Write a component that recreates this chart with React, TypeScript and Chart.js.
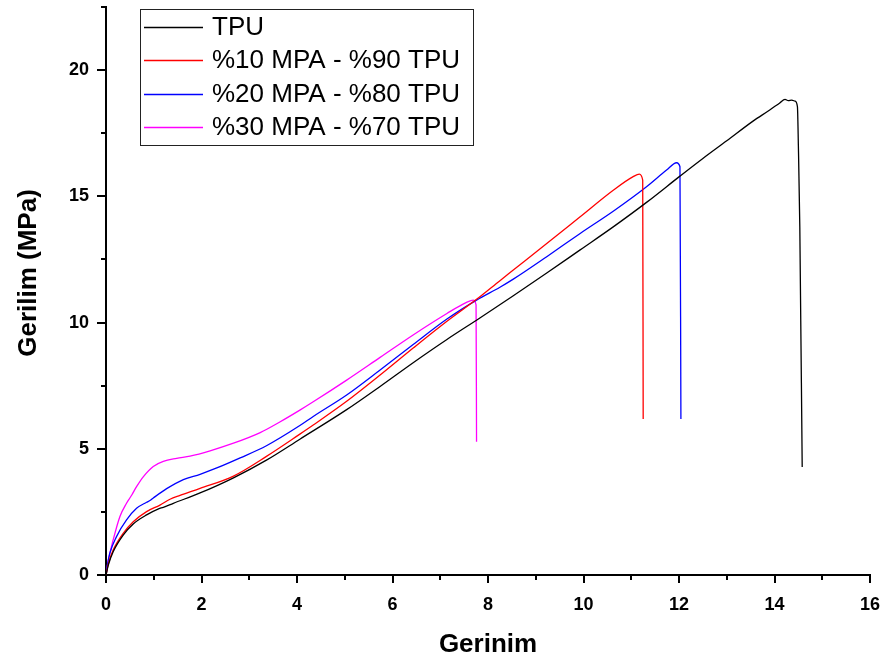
import React, { useEffect, useRef } from "react";
import { Chart, registerables } from "chart.js";

Chart.register(...registerables);

// Strain (Gerinim) / stress (Gerilim, MPa) curves for each blend
const tpuStrain = [0, 0.05, 0.15, 0.36, 0.57, 0.85, 1.1, 1.2, 1.41, 1.97, 2.67, 3.36, 4.06, 5.04, 5.74, 6.44, 7.14, 7.83, 8.53, 9.23, 9.93, 10.63, 11.32, 12.02, 12.5, 13.0, 13.55, 13.9, 14.11, 14.22, 14.29, 14.36, 14.43, 14.48, 14.5, 14.53, 14.58];
const tpuStress = [0, 0.4, 0.92, 1.58, 2.02, 2.38, 2.62, 2.68, 2.84, 3.25, 3.85, 4.55, 5.38, 6.55, 7.47, 8.42, 9.33, 10.18, 11.06, 11.96, 12.88, 13.8, 14.76, 15.8, 16.5, 17.2, 17.98, 18.42, 18.7, 18.84, 18.79, 18.81, 18.77, 18.55, 17.0, 13.8, 4.28];

const mpa10Strain = [0, 0.05, 0.15, 0.36, 0.57, 0.85, 1.13, 1.34, 1.55, 1.97, 2.67, 3.36, 4.06, 4.34, 5.04, 5.74, 6.44, 7.14, 7.76, 8.25, 8.53, 9.23, 9.93, 10.63, 11.04, 11.17, 11.24, 11.25];
const mpa10Stress = [0, 0.45, 0.99, 1.65, 2.11, 2.51, 2.77, 3.0, 3.15, 3.43, 3.92, 4.7, 5.58, 5.94, 6.88, 7.92, 9.0, 10.05, 10.92, 11.66, 12.08, 13.13, 14.19, 15.25, 15.78, 15.88, 15.64, 6.18];

const mpa20Strain = [0, 0.03, 0.08, 0.22, 0.43, 0.64, 0.85, 0.92, 0.99, 1.27, 1.62, 1.97, 2.32, 2.81, 3.36, 4.06, 4.34, 5.04, 5.74, 6.44, 7.14, 7.76, 8.25, 8.53, 9.23, 9.93, 10.63, 11.32, 11.74, 11.95, 12.02, 12.04];
const mpa20Stress = [0, 0.4, 0.86, 1.52, 2.18, 2.64, 2.88, 2.95, 3.05, 3.42, 3.78, 3.99, 4.24, 4.64, 5.12, 5.92, 6.28, 7.13, 8.12, 9.14, 10.14, 10.89, 11.4, 11.72, 12.61, 13.53, 14.42, 15.38, 16.04, 16.33, 16.17, 6.18];

const mpa30Strain = [0, 0.05, 0.15, 0.29, 0.43, 0.5, 0.54, 0.64, 0.78, 0.99, 1.2, 1.48, 1.76, 2.18, 2.67, 3.23, 3.64, 4.06, 4.34, 5.04, 5.74, 6.44, 7.14, 7.55, 7.69, 7.75, 7.76];
const mpa30Stress = [0, 0.6, 1.39, 2.31, 2.84, 3.05, 3.17, 3.5, 3.89, 4.3, 4.5, 4.62, 4.71, 4.92, 5.22, 5.64, 6.06, 6.53, 6.86, 7.72, 8.62, 9.52, 10.36, 10.8, 10.89, 10.7, 5.28];

const seriesLabels = ["TPU", "%10 MPA - %90 TPU", "%20 MPA - %80 TPU", "%30 MPA - %70 TPU"];
const seriesColors = ["#000000", "#ff0000", "#0000ff", "#ff00ff"];

const xMajorTicks = [0, 2, 4, 6, 8, 10, 12, 14, 16];
const xMinorTicks = [1, 3, 5, 7, 9, 11, 13, 15];
const yMajorTicks = [0, 5, 10, 15, 20];
const yMinorTicks = [2.5, 7.5, 12.5, 17.5, 22.5];

const xTitle = "Gerinim";
const yTitle = "Gerilim (MPa)";

const FONT = '"Liberation Sans", Arial, Helvetica, sans-serif';

function toPoints(xs: number[], ys: number[]) {
  return xs.map((x, i) => ({ x, y: ys[i] }));
}

// Outward tick marks, axis titles and the boxed legend
const decorPlugin = {
  id: "decor",
  afterDraw(chart: any) {
    const ctx: CanvasRenderingContext2D = chart.ctx;
    const xs = chart.scales.x;
    const ys = chart.scales.y;
    const { left, right, bottom } = chart.chartArea;
    ctx.save();

    // tick marks
    ctx.strokeStyle = "#000";
    ctx.lineWidth = 2;
    ctx.beginPath();
    const xTick = (v: number, len: number) => {
      const p = Math.round(xs.getPixelForValue(v));
      ctx.moveTo(p, bottom);
      ctx.lineTo(p, bottom + len);
    };
    const yTick = (v: number, len: number) => {
      const p = Math.round(ys.getPixelForValue(v));
      ctx.moveTo(left, p);
      ctx.lineTo(left - len, p);
    };
    xMajorTicks.forEach((v) => xTick(v, 8));
    xMinorTicks.forEach((v) => xTick(v, 5));
    yMajorTicks.forEach((v) => yTick(v, 9));
    yMinorTicks.forEach((v) => yTick(v, 5));
    ctx.stroke();

    // axis titles
    ctx.fillStyle = "#000";
    ctx.font = `bold 26px ${FONT}`;
    ctx.textAlign = "center";
    ctx.textBaseline = "middle";
    ctx.fillText(xTitle, (left + right) / 2, 645);
    ctx.save();
    ctx.translate(29, 273);
    ctx.rotate(-Math.PI / 2);
    ctx.fillText(yTitle, 0, 0);
    ctx.restore();

    // legend
    const boxX = 140;
    const boxY = 9;
    const boxW = 333;
    const boxH = 136;
    ctx.lineWidth = 1;
    ctx.strokeStyle = "#222";
    ctx.strokeRect(boxX + 0.5, boxY + 0.5, boxW, boxH);
    ctx.font = `26px ${FONT}`;
    ctx.textAlign = "left";
    ctx.textBaseline = "middle";
    chart.data.datasets.forEach((ds: any, i: number) => {
      const y = 27 + i * 33.3;
      ctx.strokeStyle = ds.borderColor;
      ctx.lineWidth = 1.3;
      ctx.beginPath();
      ctx.moveTo(144, Math.round(y) + 0.5);
      ctx.lineTo(203, Math.round(y) + 0.5);
      ctx.stroke();
      ctx.fillStyle = "#000";
      ctx.fillText(ds.label, 212, y + 1);
    });

    ctx.restore();
  },
};

export default function App() {
  const canvasRef = useRef<HTMLCanvasElement | null>(null);

  useEffect(() => {
    if (!canvasRef.current) return;
    const series = [
      toPoints(tpuStrain, tpuStress),
      toPoints(mpa10Strain, mpa10Stress),
      toPoints(mpa20Strain, mpa20Stress),
      toPoints(mpa30Strain, mpa30Stress),
    ];
    const chart = new Chart(canvasRef.current, {
      type: "line",
      data: {
        datasets: series.map((data, i) => ({
          label: seriesLabels[i],
          data,
          borderColor: seriesColors[i],
          backgroundColor: seriesColors[i],
          borderWidth: 1.3,
          pointRadius: 0,
          cubicInterpolationMode: "monotone",
          fill: false,
        })),
      },
      options: {
        responsive: false,
        animation: false,
        layout: { padding: { top: 7, right: 19, bottom: 0, left: 0 } },
        plugins: {
          legend: { display: false },
          tooltip: { enabled: false },
        },
        scales: {
          x: {
            type: "linear",
            min: 0,
            max: 16,
            afterBuildTicks: (s: any) => {
              s.ticks = xMajorTicks.map((value) => ({ value }));
            },
            afterFit: (s: any) => {
              s.height = 86;
              s.paddingLeft = 0;
              s.paddingRight = 0;
            },
            grid: { display: false, drawTicks: false },
            border: { display: true, color: "#000", width: 2 },
            ticks: {
              color: "#000",
              font: { family: FONT, size: 18, weight: "bold" },
              padding: 19,
              maxRotation: 0,
              autoSkip: false,
            },
          },
          y: {
            type: "linear",
            min: 0,
            max: 22.5,
            afterBuildTicks: (s: any) => {
              s.ticks = yMajorTicks.map((value) => ({ value }));
            },
            afterFit: (s: any) => {
              s.width = 106;
              s.paddingTop = 0;
              s.paddingBottom = 0;
            },
            grid: { display: false, drawTicks: false },
            border: { display: true, color: "#000", width: 2 },
            ticks: {
              color: "#000",
              font: { family: FONT, size: 18, weight: "bold" },
              padding: 17,
              autoSkip: false,
            },
          },
        },
      },
      plugins: [decorPlugin],
    } as any);
    return () => chart.destroy();
  }, []);

  return (
    <div style={{ position: "absolute", left: 0, top: 0, width: 889, height: 661, background: "#fff" }}>
      <canvas ref={canvasRef} width={889} height={661} style={{ display: "block" }} />
    </div>
  );
}
